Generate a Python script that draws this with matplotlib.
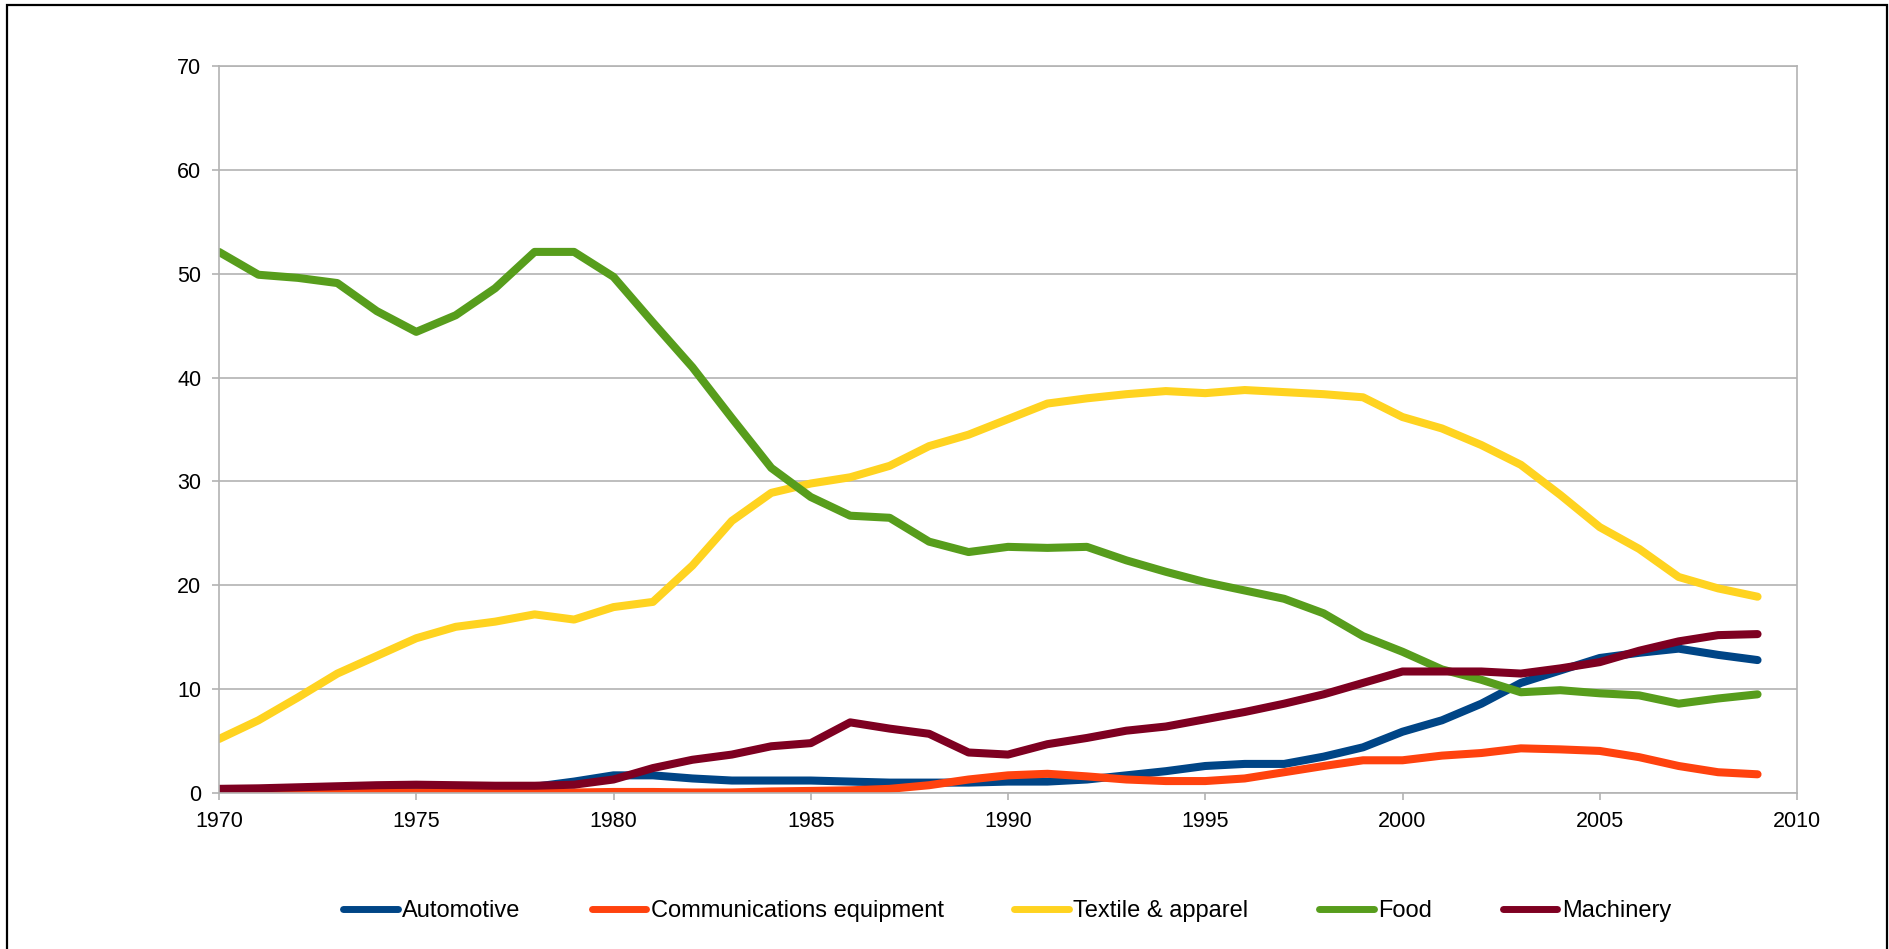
import matplotlib.pyplot as plt
from matplotlib.patches import Rectangle

plt.rcParams['font.family'] = ['Liberation Sans', 'DejaVu Sans']

years = list(range(1970, 2010))

automotive = [0.3, 0.35, 0.4, 0.45, 0.5, 0.55, 0.55, 0.6, 0.6, 1.1,
              1.7, 1.7, 1.4, 1.2, 1.2, 1.2, 1.1, 1.0, 1.0, 1.0,
              1.1, 1.1, 1.3, 1.7, 2.1, 2.6, 2.8, 2.8, 3.5, 4.4,
              5.9, 7.0, 8.6, 10.6, 11.8, 13.0, 13.5, 13.9, 13.3, 12.8]
communications = [0.0, 0.0, 0.0, 0.0, 0.05, 0.05, 0.05, 0.05, 0.05, 0.05,
                  0.1, 0.1, 0.05, 0.05, 0.15, 0.2, 0.26, 0.4, 0.75, 1.3,
                  1.7, 1.85, 1.6, 1.3, 1.15, 1.15, 1.4, 2.0, 2.6, 3.15,
                  3.15, 3.6, 3.85, 4.3, 4.2, 4.05, 3.45, 2.6, 2.0, 1.8]
textile = [5.2, 7.0, 9.2, 11.5, 13.2, 14.9, 16.0, 16.5, 17.2, 16.7,
           17.9, 18.4, 21.9, 26.2, 28.9, 29.8, 30.4, 31.5, 33.4, 34.5,
           36.0, 37.5, 38.0, 38.4, 38.7, 38.5, 38.8, 38.6, 38.4, 38.1,
           36.2, 35.1, 33.5, 31.6, 28.7, 25.6, 23.5, 20.8, 19.7, 18.9]
food = [52.1, 49.9, 49.6, 49.1, 46.4, 44.4, 46.0, 48.6, 52.1, 52.1,
        49.7, 45.3, 41.0, 36.1, 31.3, 28.5, 26.7, 26.5, 24.2, 23.2,
        23.7, 23.6, 23.7, 22.4, 21.3, 20.3, 19.5, 18.7, 17.3, 15.1,
        13.6, 11.9, 10.9, 9.7, 9.9, 9.6, 9.4, 8.6, 9.1, 9.5]
machinery = [0.4, 0.45, 0.55, 0.65, 0.75, 0.8, 0.75, 0.7, 0.7, 0.8,
             1.3, 2.4, 3.2, 3.7, 4.5, 4.8, 6.8, 6.2, 5.7, 3.9,
             3.7, 4.7, 5.3, 6.0, 6.4, 7.1, 7.8, 8.6, 9.5, 10.6,
             11.7, 11.7, 11.7, 11.5, 12.0, 12.6, 13.7, 14.6, 15.2, 15.3]

series = [
    ('Automotive', automotive, '#004586'),
    ('Communications equipment', communications, '#ff420e'),
    ('Textile & apparel', textile, '#ffd320'),
    ('Food', food, '#579d1c'),
    ('Machinery', machinery, '#7e0021'),
]

fig = plt.figure(figsize=(18.9, 9.49), dpi=100)
ax = fig.add_axes([219 / 1890, 1 - 793 / 949, (1797 - 219) / 1890, (793 - 66) / 949])

for name, vals, col in series:
    ax.plot(years, vals, color=col, lw=5.8, label=name,
            solid_capstyle='round', solid_joinstyle='round')

ax.set_xlim(1970, 2010)
ax.set_ylim(0, 70)
ax.set_xticks(range(1970, 2011, 5))
ax.set_yticks(range(0, 71, 10))
ax.grid(axis='y', color='#b3b3b3', lw=1.2)
ax.set_axisbelow(True)
for sp in ax.spines.values():
    sp.set_color('#b3b3b3')
    sp.set_linewidth(1.2)
ax.tick_params(direction='out', length=4.8, width=1.2, color='#b3b3b3',
               labelsize=15.5, labelcolor='black')
ax.tick_params(axis='y', pad=8)
ax.tick_params(axis='x', pad=8)

leg = ax.legend(loc='center', bbox_to_anchor=(0.533, 0.04), bbox_transform=fig.transFigure,
                ncol=5, frameon=False, fontsize=17, handlelength=2.3,
                handletextpad=0.2, columnspacing=3.0)
for ln in leg.get_lines():
    ln.set_solid_capstyle('round')
    ln.set_linewidth(5.0)

# black outer frame
fig.patches.append(Rectangle((7 / 1890, -0.02), 1880 / 1890, (944 / 949) + 0.02,
                             transform=fig.transFigure, fill=False,
                             edgecolor='black', lw=1.6))

fig.savefig('out.png', dpi=100)
